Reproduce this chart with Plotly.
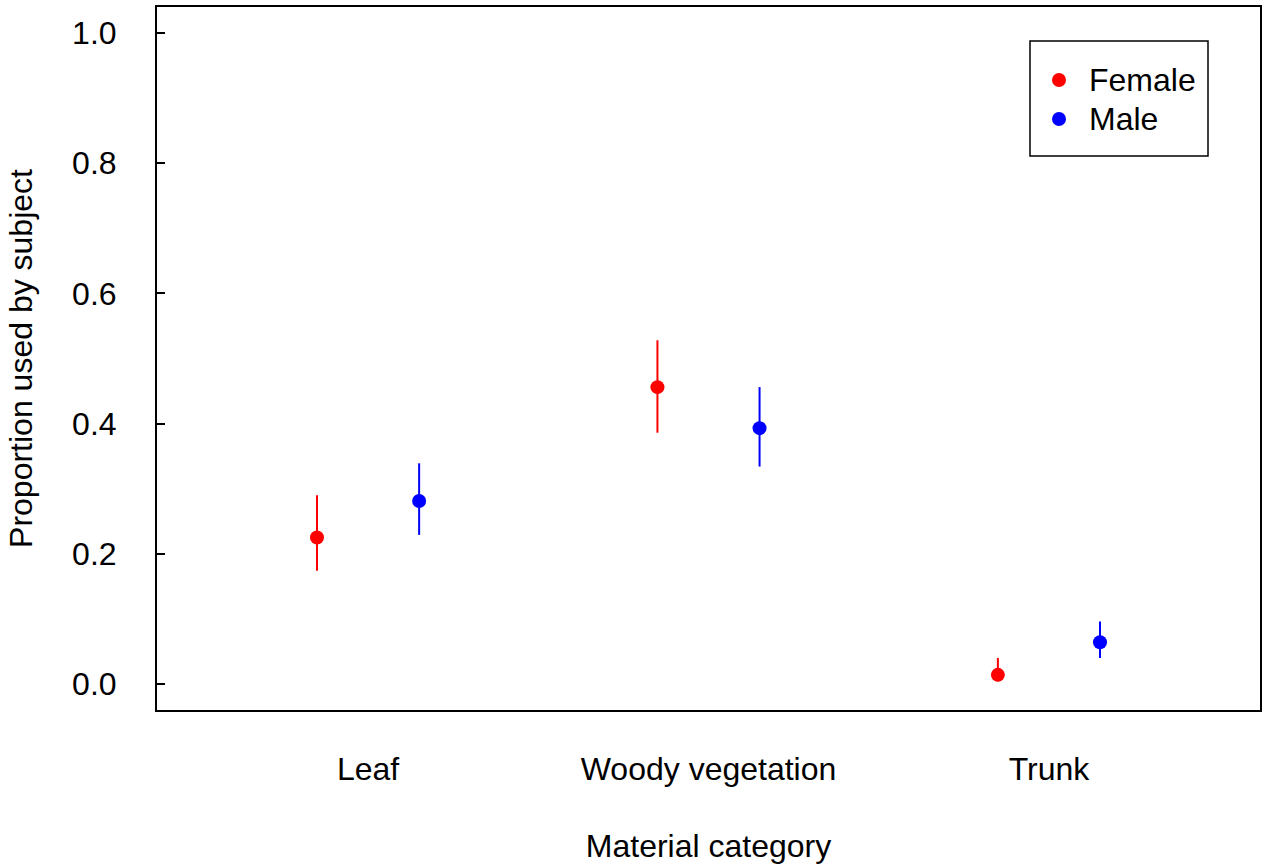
import plotly.graph_objects as go

categories = ["Leaf", "Woody vegetation", "Trunk"]
cat_pos = [1, 2, 3]
groups = ["Female", "Male"]
offsets = [-0.15, 0.15]
colors = ["#FF0000", "#0000FF"]

female_mean = [0.225, 0.456, 0.014]
female_low = [0.174, 0.386, 0.004]
female_high = [0.290, 0.528, 0.040]

male_mean = [0.281, 0.393, 0.064]
male_low = [0.229, 0.334, 0.040]
male_high = [0.339, 0.456, 0.096]

means = [female_mean, male_mean]
lows = [female_low, male_low]
highs = [female_high, male_high]

FONT = "Liberation Sans, Arial, sans-serif"
FS = 32

fig = go.Figure()
for g, off, col, m, lo, hi in zip(groups, offsets, colors, means, lows, highs):
    fig.add_trace(go.Scatter(
        x=[p + off for p in cat_pos], y=m, mode="markers", name=g,
        marker=dict(color=col, size=14, line=dict(width=0)),
        error_y=dict(type="data", symmetric=False,
                     array=[h - v for h, v in zip(hi, m)],
                     arrayminus=[v - l for v, l in zip(m, lo)],
                     color=col, thickness=2, width=0),
        showlegend=False,
    ))

# Manual legend (box, symbols, labels) positioned in paper coordinates
L, R, T, B = 157, 1260, 7, 710
W, H = R - L, B - T
def px(x):
    return (x - L) / W
def py(y):
    return (B - y) / H

shapes = [dict(type="rect", xref="paper", yref="paper",
               x0=px(1030), x1=px(1208), y0=py(156), y1=py(41),
               line=dict(color="black", width=1.5), fillcolor="white", layer="above")]
annotations = []
for g, col, yy in zip(groups, colors, [80, 119]):
    shapes.append(dict(type="circle", xref="paper", yref="paper",
                       xsizemode="pixel", ysizemode="pixel",
                       xanchor=px(1059), yanchor=py(yy),
                       x0=-7, x1=7, y0=-7, y1=7,
                       fillcolor=col, line=dict(width=0), layer="above"))
    annotations.append(dict(xref="paper", yref="paper", x=px(1087), y=py(yy),
                            text=g, showarrow=False, xanchor="left", yanchor="middle",
                            font=dict(family=FONT, size=FS, color="black")))

fig.update_layout(
    width=1271, height=864,
    margin=dict(l=L, r=1271 - R, t=T, b=864 - B, autoexpand=False),
    plot_bgcolor="white", paper_bgcolor="white",
    font=dict(family=FONT, size=FS, color="black"),
    showlegend=False,
    shapes=shapes, annotations=annotations,
)
fig.update_xaxes(
    range=[0.38, 3.62], tickmode="array", tickvals=cat_pos, ticktext=categories,
    ticks="", showgrid=False, zeroline=False, automargin=False,
    showline=True, linecolor="black", linewidth=2, mirror=True,
    ticklabelstandoff=30,
    title=dict(text="Material category", standoff=50, font=dict(size=FS)),
    tickfont=dict(size=FS),
)
fig.update_yaxes(
    range=[-0.04, 1.04], tickmode="array", tickvals=[0, 0.2, 0.4, 0.6, 0.8, 1.0],
    ticktext=["0.0", "0.2", "0.4", "0.6", "0.8", "1.0"],
    ticks="inside", ticklen=8, tickwidth=2, tickcolor="black",
    showgrid=False, zeroline=False, automargin=False,
    showline=True, linecolor="black", linewidth=2, mirror=True,
    ticklabelstandoff=32,
    title=dict(text="Proportion used by subject", standoff=30, font=dict(size=FS)),
    tickfont=dict(size=FS),
)

fig.write_html("out.html", config={"displayModeBar": False},
               post_script="document.body.style.margin='0px';")
